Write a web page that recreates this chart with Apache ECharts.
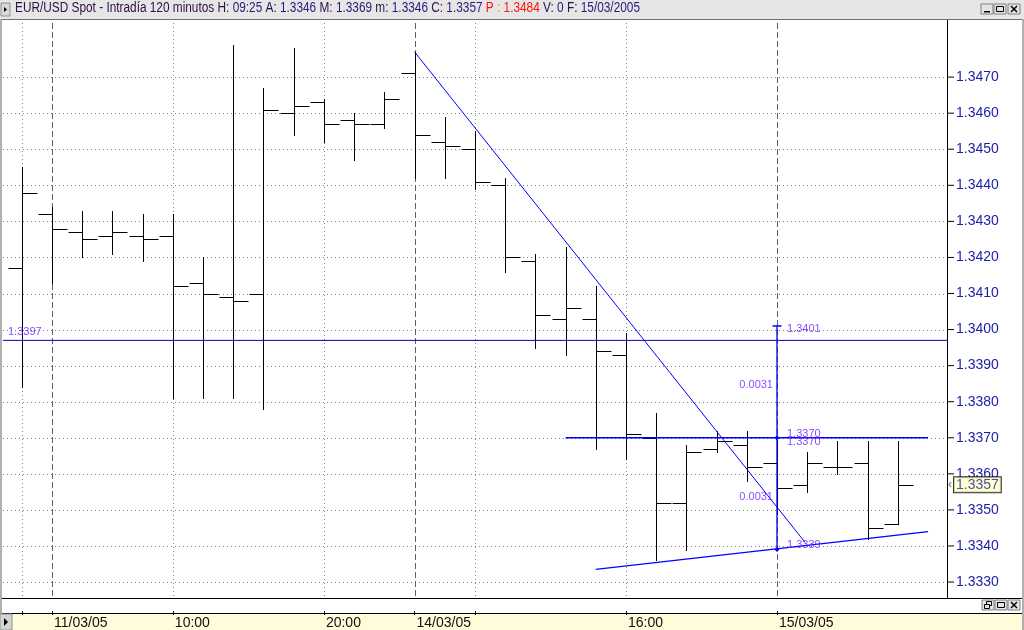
<!DOCTYPE html>
<html><head><meta charset="utf-8">
<script src="https://cdn.jsdelivr.net/npm/echarts@6/dist/echarts.min.js"></script>
<style>html,body{margin:0;padding:0;background:#fff;}#c{width:1024px;height:630px;}</style>
</head><body><div id="c"></div>
<script>
// ---------- data ----------
const barIndex = [0,1,2,3,4,5,6,7,8,9,10,11,12,13,14,15,16,17,18,19,20,21,22,23,24,25,26,27,28,29];
const opens  = [1.3417,1.3432,1.3427,1.3426,1.3426,1.3426,1.3413,1.3409,1.3410,1.3460,1.3463,1.3458,1.3457,1.3471,1.3452,1.3450,1.3440,1.3419,1.3403,1.3403,1.3393,1.3370,1.3352,1.3367,1.3368,1.3363,1.3357,1.3362,1.3363,1.3346];
const highs  = [1.3445,1.3434,1.3433,1.3433,1.3432,1.3432,1.3420,1.3479,1.3467,1.3478,1.3464,1.3460,1.3466,1.3477,1.3459,1.3455,1.3442,1.3421,1.3423,1.3412,1.3399,1.3377,1.3368,1.3372,1.3372,1.3370,1.3366,1.3369,1.3369,1.3369];
const lows   = [1.3384,1.3413,1.3420,1.3421,1.3419,1.3381,1.3381,1.3381,1.3378,1.3454,1.3452,1.3447,1.3456,1.3442,1.3442,1.3439,1.3416,1.3395,1.3393,1.3367,1.3364,1.3336,1.3339,1.3366,1.3358,1.3349,1.3355,1.3360,1.3342,1.3346];
const closes = [1.3438,1.3428,1.3425,1.3427,1.3425,1.3412,1.3410,1.3408,1.3461,1.3462,1.3457,1.3457,1.3464,1.3454,1.3451,1.3441,1.3420,1.3404,1.3406,1.3394,1.3371,1.3352,1.3366,1.3369,1.3362,1.3356,1.3363,1.3362,1.3345,1.3357];

const yTicks = [1.3330,1.3340,1.3350,1.3360,1.3370,1.3380,1.3390,1.3400,1.3410,1.3420,1.3430,1.3440,1.3450,1.3460,1.3470];
const xTickBars = [0,1,5,10,13,15,20,25];
const xLabelBars = [1,5,10,13,20,25];
const xLabelTexts = ['11/03/05','10:00','20:00','14/03/05','16:00','15/03/05'];
const dottedGridBars = [0,5,10,15,20];
const dashedGridBars = [1,13,25];

const downTrend = [[13,1.3477],[25.93,1.3341]];
const resistance = [[18,1.3370],[30,1.3370]];
const support = [[19,1.33335],[30,1.3344]];
const refLevel = 1.3397;
const measureBar = 25;
const measureLevels = [1.3401,1.3370,1.3339];
const lastPrice = 1.3357;

const headerTitle = 'EUR/USD Spot - Intradía 120 minutos';
const headerFields = [['H:','09:25'],['A:','1.3346'],['M:','1.3369'],['m:','1.3346'],['C:','1.3357']];
const headerPrev = ['P :','1.3484'];
const headerTail = [['V:','0'],['F:','15/03/2005']];

// ---------- layout ----------
const X_MIN = -0.6224, X_MAX = 30.628;
const Y_MIN = 1.332613, Y_MAX = 1.348583;
const FONT = '"Liberation Sans", Arial, sans-serif';
const labelColor = '#6a1cff';
const blue = '#0000ff';

const chart = echarts.init(document.getElementById('c'), null, {renderer:'canvas'});

function headerRich(){
  let s = '{t|' + headerTitle + '}';
  headerFields.forEach(f => { s += ' {k|' + f[0] + '} {v|' + f[1] + '}'; });
  s += ' {p|P} {q|:} {p|' + headerPrev[1] + '}';
  headerTail.forEach(f => { s += ' {k|' + f[0] + '} {v|' + f[1] + '}'; });
  return s;
}

const f4 = v => v.toFixed(4);
const diffTop = f4(measureLevels[0]-measureLevels[1]);
const diffBot = f4(measureLevels[1]-measureLevels[2]);
const lblStyle = {color: labelColor, fontSize: 11, fontFamily: FONT};
const labelItems = [
  {value:[X_MIN, refLevel], label:Object.assign({show:true, formatter:f4(refLevel), position:'right', distance:5, offset:[0,-8]}, lblStyle)},
  {value:[measureBar, measureLevels[0]], label:Object.assign({show:true, formatter:f4(measureLevels[0]), position:'right', distance:10, offset:[0,3]}, lblStyle)},
  {value:[measureBar, measureLevels[1]], label:Object.assign({show:true, formatter:f4(measureLevels[1]), position:'right', distance:10, offset:[0,-4]}, lblStyle)},
  {value:[measureBar, measureLevels[1]], label:Object.assign({show:true, formatter:f4(measureLevels[1]), position:'right', distance:10, offset:[0,4]}, lblStyle)},
  {value:[measureBar, measureLevels[2]], label:Object.assign({show:true, formatter:f4(measureLevels[2]), position:'right', distance:10, offset:[0,-5]}, lblStyle)},
  {value:[measureBar, (measureLevels[0]+measureLevels[1])/2], label:Object.assign({show:true, formatter:diffTop, position:'left', distance:4, offset:[0,3]}, lblStyle)},
  {value:[measureBar, (measureLevels[1]+measureLevels[2])/2], label:Object.assign({show:true, formatter:diffBot, position:'left', distance:4, offset:[0,3]}, lblStyle)},
  {value:[X_MAX, lastPrice], label:{show:true, position:'right', distance:1,
     formatter:'{a|‹}{b|' + f4(lastPrice) + '}',
     rich:{a:{fontSize:12, color:'#404040', padding:[0,2,0,0], fontFamily:FONT},
           b:{fontSize:14, color:'#1c1ca8', backgroundColor:'#ffffc4', borderColor:'#000', borderWidth:1,
              padding:[1,2,0,2], fontFamily:FONT}}}}
];

function btn(x, y, kind){
  const els = [{type:'rect', shape:{x:x, y:y, width:12, height:10}, style:{fill:'#e4e4e4', stroke:'#808080', lineWidth:1}, z:101}];
  if(kind==='min') els.push({type:'rect', shape:{x:x+3, y:y+7, width:6, height:1.5}, style:{fill:'#000'}, z:102});
  if(kind==='max') els.push({type:'rect', shape:{x:x+2.5, y:y+2.5, width:7, height:5}, style:{fill:'none', stroke:'#000', lineWidth:1}, z:102});
  if(kind==='restore'){ els.push({type:'rect', shape:{x:x+4.5, y:y+1.5, width:5, height:4}, style:{fill:'none', stroke:'#000', lineWidth:1}, z:102});
                        els.push({type:'rect', shape:{x:x+2.5, y:y+4.5, width:5, height:4}, style:{fill:'#e4e4e4', stroke:'#000', lineWidth:1}, z:103}); }
  if(kind==='close'){ els.push({type:'line', shape:{x1:x+3, y1:y+2, x2:x+9, y2:y+8}, style:{stroke:'#000', lineWidth:1.5}, z:102});
                      els.push({type:'line', shape:{x1:x+9, y1:y+2, x2:x+3, y2:y+8}, style:{stroke:'#000', lineWidth:1.5}, z:102}); }
  return els;
}

const graphics = [
  {type:'rect', shape:{x:0, y:0, width:1024, height:19}, style:{fill:'#e6e6e6'}, z:100},
  {type:'line', shape:{x1:0, y1:19.5, x2:1024, y2:19.5}, style:{stroke:'#707070', lineWidth:1}, z:100},
  {type:'rect', shape:{x:1, y:3, width:9, height:13}, style:{fill:'#d8d8d8', stroke:'#909090', lineWidth:1}, z:101},
  {type:'polygon', shape:{points:[[4,7],[4,12],[7,9.5]]}, style:{fill:'#000'}, z:102},
  {type:'text', x:15, y:1, scaleX:0.845, style:{text: headerRich(), font:'14px ' + FONT, rich:{
      t:{fill:'#2e1048', fontSize:14, fontFamily:FONT},
      k:{fill:'#2e1048', fontSize:14, fontFamily:FONT},
      v:{fill:'#2a1a78', fontSize:14, fontFamily:FONT},
      p:{fill:'#ff1010', fontSize:14, fontFamily:FONT},
      q:{fill:'#ff8000', fontSize:14, fontFamily:FONT}}}, z:101},
  ...btn(981,4,'min'), ...btn(994,4,'max'), ...btn(1008,4,'close'),
  {type:'rect', shape:{x:0, y:19, width:2, height:611}, style:{fill:'#b0b0b0'}, z:100},
  {type:'rect', shape:{x:1022, y:19, width:2, height:611}, style:{fill:'#b0b0b0'}, z:100},
  {type:'line', shape:{x1:947.5, y1:20, x2:947.5, y2:598}, style:{stroke:'#000', lineWidth:1}, z:60},
  {type:'line', shape:{x1:0, y1:598.5, x2:1024, y2:598.5}, style:{stroke:'#000', lineWidth:1}, z:60},
  {type:'line', shape:{x1:0, y1:613.5, x2:1024, y2:613.5}, style:{stroke:'#000', lineWidth:1}, z:60},
  ...btn(982,600,'restore'), ...btn(995,600,'max'), ...btn(1008,600,'close'),
  {type:'rect', shape:{x:0, y:614, width:1024, height:16}, style:{fill:'#fffcda'}, z:-10},
  {type:'rect', shape:{x:0, y:614, width:12, height:16}, style:{fill:'#d4d4d4', stroke:'#909090', lineWidth:1}, z:101},
  {type:'polygon', shape:{points:[[4,618],[4,626],[8,622]]}, style:{fill:'#000'}, z:102}
];

const hGridData = yTicks.map(v => [X_MIN, v, X_MAX]);
const vGridData = dottedGridBars.map(b => [b, Y_MIN, Y_MAX, 0]).concat(dashedGridBars.map(b => [b, Y_MIN, Y_MAX, 1]));

const option = {
  animation: false,
  backgroundColor: '#ffffff',
  grid: {left:3, right:77, top:20, bottom:32, containLabel:false},
  xAxis: [
    {type:'value', min:X_MIN, max:X_MAX, gridIndex:0, position:'bottom',
     axisLine:{show:false, onZero:false}, axisTick:{show:false}, axisLabel:{show:false}, splitLine:{show:false}},
    {type:'value', min:X_MIN, max:X_MAX, gridIndex:0, position:'bottom', offset:15,
     axisLine:{show:false, onZero:false},
     axisTick:{show:true, customValues:xTickBars, length:4, lineStyle:{color:'#000', width:1}},
     axisLabel:{show:true, customValues:xLabelBars, align:'left', padding:[0,0,0,2], margin:5,
       fontSize:14, fontFamily:FONT, color:'#1a0812',
       formatter:(v)=>{ const i = xLabelBars.indexOf(Math.round(v)); return i>=0 ? xLabelTexts[i] : ''; }},
     splitLine:{show:false}}
  ],
  yAxis: {type:'value', position:'right', min:Y_MIN, max:Y_MAX, scale:true,
    axisLine:{show:false, onZero:false},
    axisTick:{show:false},
    axisLabel:{show:true, customValues:yTicks, margin:1, fontSize:14, fontFamily:FONT, color:'#1c1ca8',
      formatter:(v)=>'{t|}{v|' + v.toFixed(4) + '}',
      rich:{t:{width:6, height:1, backgroundColor:'#000000'},
            v:{fontSize:14, fontFamily:FONT, color:'#1c1ca8', padding:[0,0,0,2]}}},
    splitLine:{show:false}},
  graphic: graphics,
  series: [
    {name:'hGrid', type:'custom', z:1, silent:true, data:hGridData, encode:{x:[0,2], y:1},
     renderItem:(p, api) => {
       const a = api.coord([api.value(0), api.value(1)]), b = api.coord([api.value(2), api.value(1)]);
       const y = Math.round(a[1]) + 0.5;
       return {type:'line', shape:{x1:a[0], y1:y, x2:b[0], y2:y}, style:{stroke:'#808080', lineWidth:1, lineDash:[1,3]}};
     }},
    {name:'vGrid', type:'custom', z:1, silent:true, data:vGridData, encode:{x:0, y:[1,2]},
     renderItem:(p, api) => {
       const a = api.coord([api.value(0), api.value(1)]), b = api.coord([api.value(0), api.value(2)]);
       const x = Math.round(a[0]) + 0.5;
       const dashedLine = api.value(3) === 1;
       return {type:'line', shape:{x1:x, y1:a[1], x2:x, y2:b[1]},
               style:{stroke: dashedLine ? '#606060' : '#808080', lineWidth:1, lineDash: dashedLine ? [6,3] : [1,3]}};
     }},
    {name:'refLevel', type:'line', data:[[X_MIN,refLevel],[X_MAX,refLevel]], z:4, silent:true, symbol:'none',
     lineStyle:{color:'#0000c0', width:1}},
    {name:'ohlc', type:'custom', z:3, silent:true,
     data: barIndex.map(i => [i, opens[i], highs[i], lows[i], closes[i]]),
     encode:{x:0, y:[1,2,3,4]},
     renderItem:(params, api) => {
       const x = api.value(0);
       const ph = api.coord([x, api.value(2)]);
       const pl = api.coord([x, api.value(3)]);
       const po = api.coord([x, api.value(1)]);
       const pc = api.coord([x, api.value(4)]);
       const cx = Math.round(ph[0]) + 0.5;
       const yo = Math.round(po[1]) + 0.5, yc = Math.round(pc[1]) + 0.5;
       const st = {stroke:'#000', lineWidth:1};
       return {type:'group', children:[
         {type:'line', shape:{x1:cx, y1:Math.round(ph[1]), x2:cx, y2:Math.round(pl[1])+1}, style:st},
         {type:'line', shape:{x1:cx-14, y1:yo, x2:cx, y2:yo}, style:st},
         {type:'line', shape:{x1:cx, y1:yc, x2:cx+15, y2:yc}, style:st}
       ]};
     }},
    {name:'downTrend', type:'line', data:downTrend, z:5, symbol:'none', silent:true,
     lineStyle:{color:blue, width:1}},
    {name:'resistance', type:'line', data:resistance, z:5, symbol:'none', silent:true,
     lineStyle:{color:blue, width:1.3}},
    {name:'support', type:'line', data:support, z:5, symbol:'none', silent:true,
     lineStyle:{color:blue, width:1.3}},
    {name:'measure', type:'line', z:6, silent:true,
     data: measureLevels.map((v,i) => ({value:[measureBar, v],
       symbol: i===0 ? 'rect' : 'diamond', symbolSize: i===0 ? [9,1.5] : 5})),
     showSymbol:true, itemStyle:{color:blue}, lineStyle:{color:blue, width:1.3}},
    {name:'labels', type:'scatter', z:7, silent:true, symbolSize:0, clip:false, data: labelItems}
  ]
};
chart.setOption(option);
</script></body></html>
